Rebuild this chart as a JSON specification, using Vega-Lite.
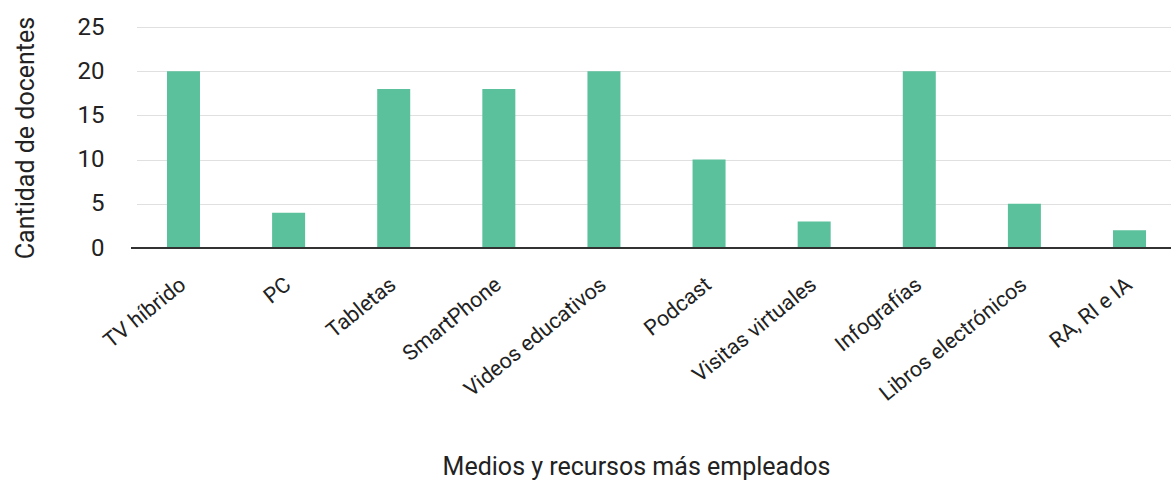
{
  "$schema": "https://vega.github.io/schema/vega-lite/v6.json",
  "width": 1040,
  "height": 221,
  "autosize": "none",
  "padding": {"left": 131, "top": 27, "right": 0, "bottom": 233},
  "background": "white",
  "config": {
    "font": "Roboto",
    "view": {"stroke": null},
    "axis": {"labelFont": "Roboto", "titleFont": "Roboto", "labelColor": "#222222", "titleColor": "#222222", "titleFontWeight": "normal"}
  },
  "data": {
    "values": [
      {"medio": "TV híbrido", "docentes": 20},
      {"medio": "PC", "docentes": 4},
      {"medio": "Tabletas", "docentes": 18},
      {"medio": "SmartPhone", "docentes": 18},
      {"medio": "Videos educativos", "docentes": 20},
      {"medio": "Podcast", "docentes": 10},
      {"medio": "Visitas virtuales", "docentes": 3},
      {"medio": "Infografías", "docentes": 20},
      {"medio": "Libros electrónicos", "docentes": 5},
      {"medio": "RA, RI e IA", "docentes": 2}
    ]
  },
  "layer": [
    {
      "mark": {"type": "bar", "color": "#5BC19C"},
      "encoding": {
        "x": {
          "field": "medio",
          "type": "nominal",
          "sort": null,
          "scale": {"paddingInner": 0.686, "paddingOuter": 0.29, "range": [5.5, 1045.5]},
          "axis": {
            "title": "Medios y recursos más empleados",
            "titleFontSize": 25,
            "titleX": 505,
            "titleY": 226,
            "titleBaseline": "alphabetic",
            "labelAngle": -39,
            "labelAlign": "right",
            "labelBaseline": "middle",
            "labelFontSize": 21.5,
            "labelPadding": 34,
            "labelLimit": 0,
            "ticks": false,
            "domain": false
          }
        },
        "y": {
          "field": "docentes",
          "type": "quantitative",
          "scale": {"domain": [0, 25], "nice": false, "zero": true},
          "axis": {
            "title": "Cantidad de docentes",
            "titleFontSize": 25,
            "titleX": -98,
            "titleY": 110.5,
            "titleBaseline": "alphabetic",
            "titleAlign": "center",
            "values": [0, 5, 10, 15, 20, 25],
            "labelFontSize": 24,
            "labelPadding": 27,
            "ticks": false,
            "domain": false,
            "gridColor": "#e0e0e0",
            "gridWidth": 1
          }
        }
      }
    },
    {
      "mark": {"type": "rule", "color": "#333333", "strokeWidth": 1.5},
      "encoding": {"y": {"datum": 0}}
    }
  ]
}
